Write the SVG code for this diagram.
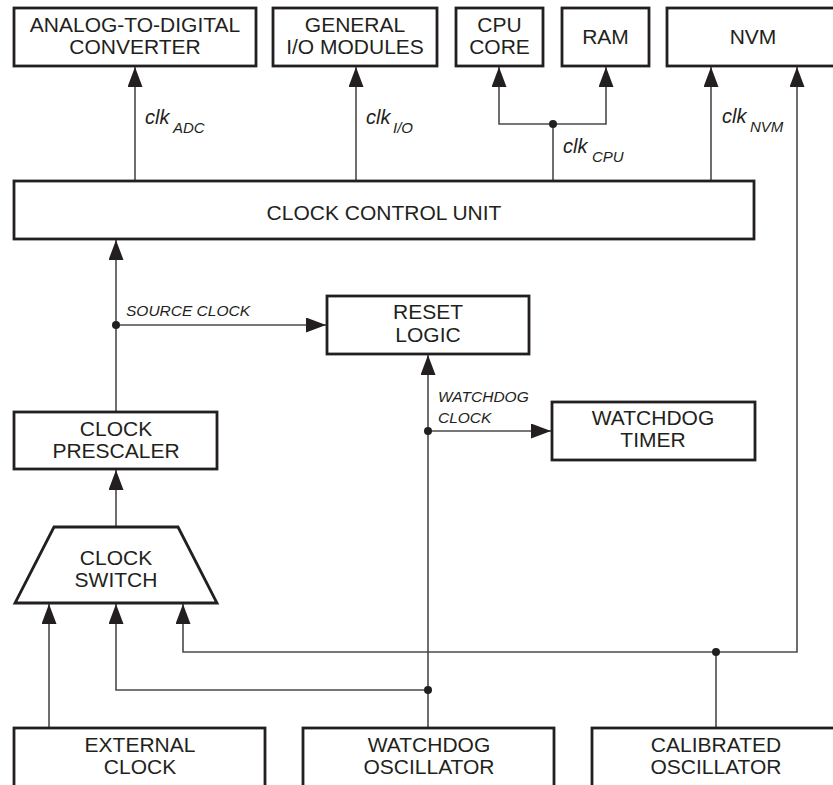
<svg xmlns="http://www.w3.org/2000/svg" width="833" height="785" viewBox="0 0 833 785">
<style>
.box{fill:#fff;stroke:#231f20;stroke-width:2.8}
.t{font-family:"Liberation Sans",Arial,sans-serif;font-size:21px;fill:#231f20;text-anchor:middle}
.lbl{font-family:"Liberation Sans",Arial,sans-serif;font-style:italic;fill:#231f20}
.sl{font-size:15.5px}
.clk{font-size:20px}
.sub{font-size:15px}
.c{fill:none;stroke:#4a4a4a;stroke-width:1.6}
.arr{marker-end:url(#ah)}
.dot{fill:#231f20}
</style>
<defs>
<marker id="ah" markerUnits="userSpaceOnUse" markerWidth="20" markerHeight="16" refX="20" refY="7.5" orient="auto">
<path d="M0,0 L20,7.5 L0,15 z" fill="#231f20"/>
</marker>
</defs>
<rect width="833" height="785" fill="#fff"/>
<g id="connectors">
<path class="c arr" d="M135,181 V67"/>
<path class="c arr" d="M356,181 V67"/>
<path class="c" d="M553,181 V124"/>
<path class="c arr" d="M553,124 H499 V67"/>
<path class="c arr" d="M553,124 H606 V67"/>
<path class="c arr" d="M711,181 V67"/>
<path class="c" d="M716,728 V652"/>
<path class="c arr" d="M716,652 H797 V67"/>
<path class="c arr" d="M716,652 H183 V604"/>
<path class="c arr" d="M428,728 V355"/>
<path class="c arr" d="M428,431 H551"/>
<path class="c arr" d="M428,690 H116 V604"/>
<path class="c arr" d="M49,728 V604"/>
<path class="c arr" d="M116,527 V470"/>
<path class="c arr" d="M116,412 V240"/>
<path class="c arr" d="M116,325 H326"/>
<circle class="dot" cx="553" cy="124" r="4"/>
<circle class="dot" cx="716" cy="652" r="4"/>
<circle class="dot" cx="428" cy="431" r="4"/>
<circle class="dot" cx="428" cy="690" r="4"/>
<circle class="dot" cx="116" cy="325" r="4"/>
<text class="lbl clk" x="145" y="124">clk<tspan class="sub" x="173" y="133">ADC</tspan></text>
<text class="lbl clk" x="366" y="124">clk<tspan class="sub" x="393" y="133">I/O</tspan></text>
<text class="lbl clk" x="563" y="153">clk<tspan class="sub" x="592" y="162">CPU</tspan></text>
<text class="lbl clk" x="722" y="123">clk<tspan class="sub" x="750" y="132">NVM</tspan></text>
<text class="lbl sl" x="126" y="316">SOURCE CLOCK</text>
<text class="lbl sl" x="438" y="402">WATCHDOG</text>
<text class="lbl sl" x="438" y="423">CLOCK</text>
</g>
<g id="adc"><rect class="box" x="14" y="8" width="242" height="58"/><text class="t" x="135" y="32">ANALOG-TO-DIGITAL</text><text class="t" x="135" y="54">CONVERTER</text></g>
<g id="gio"><rect class="box" x="273" y="8" width="164" height="58"/><text class="t" x="355" y="32">GENERAL</text><text class="t" x="355" y="54">I/O MODULES</text></g>
<g id="cpu"><rect class="box" x="456" y="8" width="87" height="58"/><text class="t" x="499.5" y="32">CPU</text><text class="t" x="499.5" y="54">CORE</text></g>
<g id="ram"><rect class="box" x="562" y="8" width="87" height="58"/><text class="t" x="605.5" y="44">RAM</text></g>
<g id="nvm"><rect class="box" x="667" y="8" width="175" height="58"/><text class="t" x="753" y="44">NVM</text></g>
<g id="ccu"><rect class="box" x="14" y="181" width="740" height="58"/><text class="t" x="384" y="220">CLOCK CONTROL UNIT</text></g>
<g id="reset"><rect class="box" x="327" y="296" width="202" height="58"/><text class="t" x="428" y="319">RESET</text><text class="t" x="428" y="342">LOGIC</text></g>
<g id="wdt"><rect class="box" x="552" y="402" width="203" height="58"/><text class="t" x="653" y="425">WATCHDOG</text><text class="t" x="653" y="447">TIMER</text></g>
<g id="prescaler"><rect class="box" x="14" y="412" width="203" height="57"/><text class="t" x="116" y="436">CLOCK</text><text class="t" x="116" y="458">PRESCALER</text></g>
<g id="switch"><polygon class="box" points="54,527 178,527 217,603 15,603"/><text class="t" x="116" y="565">CLOCK</text><text class="t" x="116" y="587">SWITCH</text></g>
<g id="ext"><rect class="box" x="14" y="728" width="251" height="80"/><text class="t" x="140" y="752">EXTERNAL</text><text class="t" x="140" y="774">CLOCK</text></g>
<g id="wdo"><rect class="box" x="303" y="728" width="251" height="80"/><text class="t" x="429" y="752">WATCHDOG</text><text class="t" x="429" y="774">OSCILLATOR</text></g>
<g id="cal"><rect class="box" x="592" y="728" width="250" height="80"/><text class="t" x="716" y="752">CALIBRATED</text><text class="t" x="716" y="774">OSCILLATOR</text></g>
</svg>
